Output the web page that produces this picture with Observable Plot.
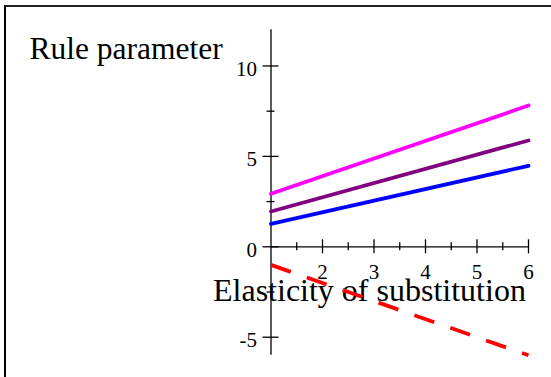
<!DOCTYPE html>
<html>
<head>
<meta charset="utf-8">
<script src="https://cdn.jsdelivr.net/npm/d3@7"></script>
<script src="https://cdn.jsdelivr.net/npm/@observablehq/plot@0.6"></script>
<style>
  html, body { margin: 0; padding: 0; background: #fff; }
  #wrap { position: relative; width: 551px; height: 377px; overflow: hidden; }
  #frame { position: absolute; left: 4px; top: 5px; right: 0; bottom: 0; border-top: 2px solid #222; border-left: 2px solid #000; }
  #chart { position: absolute; left: 0; top: 0; }
  #chart svg text { font-family: 'Liberation Serif', 'Times New Roman', serif; }
</style>
</head>
<body>
<div id="wrap"><div id="frame"></div><div id="chart"></div></div>
<script>
// Data
const sigma = [1, 6];
const blueSeries = [1.27, 4.48];
const purpleSeries = [1.95, 5.88];
const magentaSeries = [2.93, 7.81];
const redSeries = [-1, -6];

const xMajorTicks = [2, 3, 4, 5, 6];
const xMinorTicks = [1.5, 2.5, 3.5, 4.5, 5.5];
const yMajorTicks = [-5, 0, 5, 10];
const yMinorTicks = [-2.5, 2.5, 7.5];
const xAxisExtent = [1, 6];
const yAxisExtent = [-6, 12];
const xTitle = "Elasticity of substitution";
const yTitle = "Rule parameter";

const series = [
  {name: "blue", values: blueSeries, color: "#0000ff", dash: null},
  {name: "purple", values: purpleSeries, color: "#800080", dash: null},
  {name: "magenta", values: magentaSeries, color: "#ff00ff", dash: null},
  {name: "red", values: redSeries, color: "#ff0000", dash: "21,17"}
];

const rows = s => sigma.map((x, i) => ({x, y: s.values[i]}));
const font = "'Liberation Serif', 'Times New Roman', serif";

const lineMarks = series.map(s => Plot.line(rows(s), {
  x: "x", y: "y", stroke: s.color, strokeWidth: 3.8,
  strokeDasharray: s.dash, strokeLinecap: s.dash ? "butt" : "round"
}));

const plot = Plot.plot({
  width: 551,
  height: 377,
  marginTop: 0, marginRight: 0, marginBottom: 0, marginLeft: 0,
  style: {fontFamily: font, background: "transparent", overflow: "visible"},
  x: {domain: xAxisExtent, range: [270.5, 528], axis: null},
  y: {domain: yAxisExtent, range: [354.8, 29.3], axis: null},
  marks: [
    Plot.text([yTitle], {frameAnchor: "top-left", text: d => d, textAnchor: "start", lineAnchor: "bottom", dx: 29, dy: 58.5, fontSize: 31.5, fontFamily: font, fill: "#000"}),
    Plot.text([xTitle], {frameAnchor: "top-left", text: d => d, textAnchor: "start", lineAnchor: "bottom", dx: 212.5, dy: 300.5, fontSize: 32, fontFamily: font, fill: "#000"}),
    // axes lines
    Plot.ruleY([0], {x1: xAxisExtent[0], x2: xAxisExtent[1], stroke: "#000", strokeWidth: 1.3}),
    Plot.ruleX([xAxisExtent[0]], {y1: yAxisExtent[0], y2: yAxisExtent[1], stroke: "#000", strokeWidth: 1.3}),
    // x ticks
    Plot.ruleX(xMajorTicks, {x: d => d, y1: 0, y2: 0, insetTop: -7, insetBottom: -7, stroke: "#000", strokeWidth: 1.3}),
    Plot.ruleX(xMinorTicks, {x: d => d, y1: 0, y2: 0, insetTop: -4, insetBottom: -4, stroke: "#000", strokeWidth: 1.3}),
    // y ticks
    Plot.ruleY(yMajorTicks, {y: d => d, x1: 1, x2: 1, insetLeft: -8, insetRight: -8, stroke: "#000", strokeWidth: 1.3}),
    Plot.ruleY(yMinorTicks, {y: d => d, x1: 1, x2: 1, insetLeft: -4, insetRight: -4, stroke: "#000", strokeWidth: 1.3}),
    // tick labels
    Plot.text(xMajorTicks, {x: d => d, y: 0, text: d => String(d), textAnchor: "middle", lineAnchor: "bottom", dy: 32, fontSize: 21, fontFamily: font, fill: "#000"}),
    Plot.text(yMajorTicks, {x: 1, y: d => d, text: d => String(d), textAnchor: "end", lineAnchor: "bottom", dx: -14, dy: 10, fontSize: 21, fontFamily: font, fill: "#000"}),
    ...lineMarks
  ]
});
document.getElementById("chart").appendChild(plot);
</script>
</body>
</html>
